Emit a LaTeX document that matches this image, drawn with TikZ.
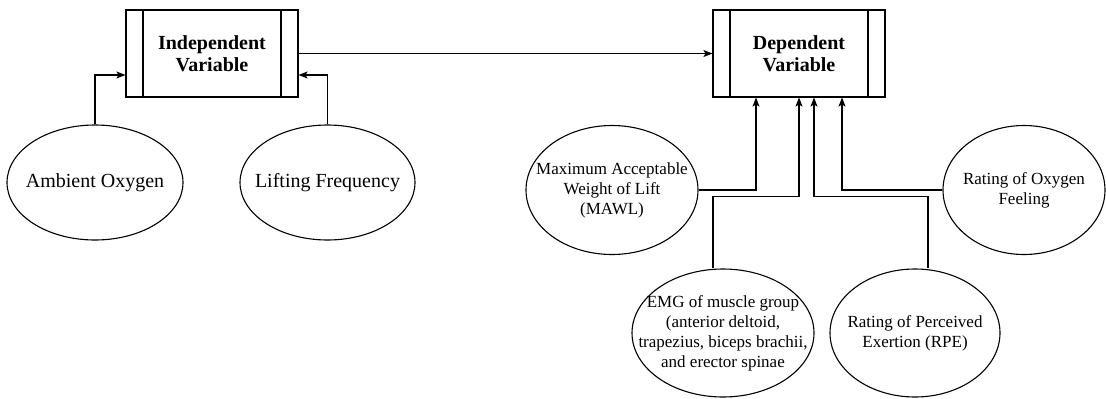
\documentclass[tikz,border=0pt]{standalone}
\usepackage{fontspec}
\setmainfont{Liberation Serif}
\usetikzlibrary{arrows.meta,shapes.geometric}

\begin{document}
\begin{tikzpicture}[x=1pt,y=-1pt,line width=1.1pt,
    arr/.style={-{Stealth[length=9pt,width=7pt,inset=2pt]}},
    varbox/.style={draw,rectangle,minimum width=172pt,minimum height=87pt,align=center,
        font=\fontsize{20}{22}\selectfont\bfseries,
        path picture={\draw ([xshift=17pt]path picture bounding box.north west) -- ([xshift=17pt]path picture bounding box.south west);
                      \draw ([xshift=-17pt]path picture bounding box.north east) -- ([xshift=-17pt]path picture bounding box.south east);}},
    bigoval/.style={draw,ellipse,inner xsep=-30pt,inner ysep=0pt,align=center,font=\fontsize{20}{22}\selectfont},
    oval/.style={draw,ellipse,inner xsep=-30pt,inner ysep=0pt,align=center,font=\fontsize{17}{20}\selectfont}]
                \useasboundingbox (0,0) rectangle (1106,399);
                \node[varbox] (indep) at (212,53.5) {Independent\\Variable};
                \node[varbox] (dep) at (799,53.5) {Dependent\\Variable};
                \node[bigoval,minimum width=176pt,minimum height=115pt] (ambient) at (95,182.5) {Ambient Oxygen};
                \node[bigoval,minimum width=175pt,minimum height=115pt] (lifting) at (327.5,182.5) {Lifting Frequency};
                \node[oval,minimum width=172pt,minimum height=129pt] (mawl) at (612,190) {Maximum Acceptable\\Weight of Lift\\(MAWL)};
                \node[oval,minimum width=162pt,minimum height=129pt] (oxyfeel) at (1024,190) {Rating of Oxygen\\Feeling};
                \node[oval,minimum width=182pt,minimum height=128pt] (emg) at (723,333) {EMG of muscle group\\(anterior deltoid,\\trapezius, biceps brachii,\\and erector spinae};
                \node[oval,minimum width=170pt,minimum height=128pt] (rpe) at (915,333) {Rating of Perceived\\Exertion (RPE)};
                \draw[arr] (indep.east) -- (dep.west);
                \draw[arr] (ambient.north) |- ([yshift=-21.5pt]indep.west);
                \draw[arr] (lifting.north) |- ([yshift=-21.5pt]indep.east);
                \draw[arr] (mawl.east) -| ([xshift=-43pt]dep.south);
                \draw[arr] ([xshift=-10pt]emg.north) -- ++(0,-72) -| (dep.south);
                \draw[arr] ([xshift=13pt]rpe.north) -- ++(0,-72) -| ([xshift=15pt]dep.south);
                \draw[arr] (oxyfeel.west) -| ([xshift=43pt]dep.south);
            \end{tikzpicture}
\end{document}
